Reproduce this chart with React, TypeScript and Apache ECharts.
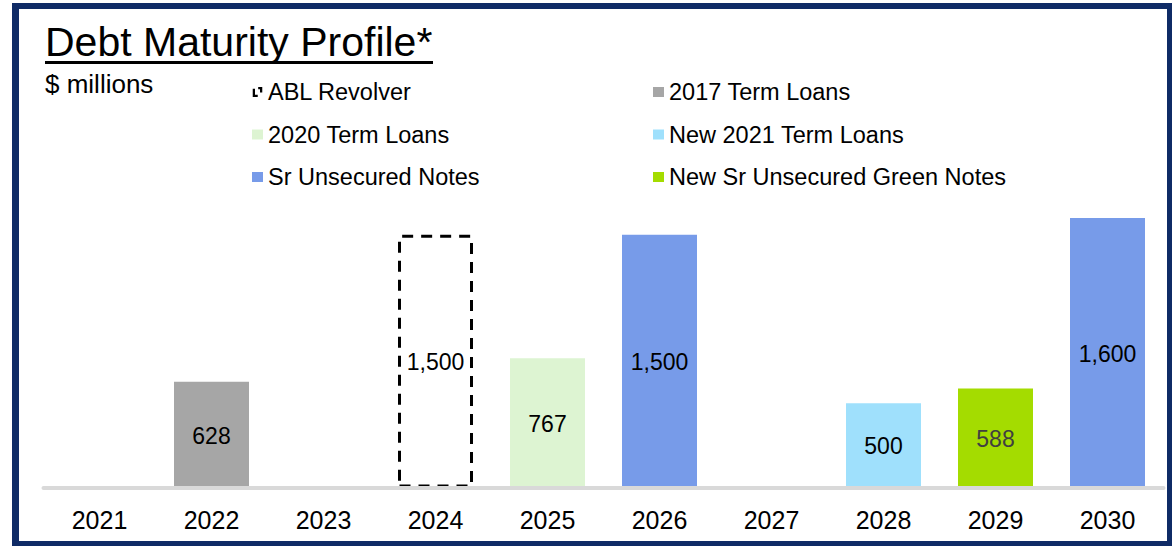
import React, { useEffect, useRef } from "react";
import * as echarts from "echarts";

const categories = ["2021", "2022", "2023", "2024", "2025", "2026", "2027", "2028", "2029", "2030"];
const ablRevolver = [null, null, null, 1500, null, null, null, null, null, null];
const termLoans2017 = [null, 628, null, null, null, null, null, null, null, null];
const termLoans2020 = [null, null, null, null, 767, null, null, null, null, null];
const newTermLoans2021 = [null, null, null, null, null, null, null, 500, null, null];
const srUnsecuredNotes = [null, null, null, null, null, 1500, null, null, null, 1600];
const greenNotes = [null, null, null, null, null, null, null, null, 588, null];

const FONT = "'Liberation Sans', Arial, sans-serif";
const NAVY = "#0f2b66";

export default function App() {
  const ref = useRef<HTMLDivElement>(null);
  useEffect(() => {
    if (!ref.current) return;
    const chart = echarts.init(ref.current, undefined, { renderer: "svg" });
    const fmt = (p: any) => Number(p.value).toLocaleString("en-US");
    const labelBase = {
      show: true,
      position: "inside",
      offset: [0, 1],
      fontFamily: FONT,
      fontSize: 23,
      color: "#000",
      formatter: fmt,
    };
    const mk = (name: string, data: any[], color: string, extra: any = {}) => ({
      name,
      type: "bar",
      stack: "total",
      barWidth: 75,
      data,
      itemStyle: { color },
      label: { ...labelBase },
      ...extra,
    });
    const legendText = { fontFamily: FONT, fontSize: 23.5, color: "#000", lineHeight: 24 };
    chart.setOption({
      animation: false,
      backgroundColor: "#fff",
      grid: { left: 43.5, right: 8.5, top: 218, bottom: 58.5, containLabel: false, outerBoundsMode: "none" },
      xAxis: {
        type: "category",
        data: categories,
        z: 5,
        axisLine: { lineStyle: { color: "#d9d9d9", width: 4 } },
        axisTick: { show: false },
        axisLabel: { fontFamily: FONT, fontSize: 25, color: "#000", margin: 17, lineHeight: 30 },
      },
      yAxis: { type: "value", min: 0, max: 1600, show: false, splitLine: { show: false } },
      legend: [
        {
          left: 252,
          top: 80,
          orient: "vertical",
          padding: 0,
          itemWidth: 11,
          itemHeight: 10,
          itemGap: 18.5,
          selectedMode: false,
          textStyle: legendText,
          data: [
            {
              name: "ABL Revolver",
              icon: "path://M0,2h2.5v6.5h3v2.5h-5.5z M6,0h4.5v6h-2.5v-3.5h-2z",
              itemStyle: { color: "#000", borderWidth: 0 },
            },
            { name: "2020 Term Loans", icon: "rect" },
            { name: "Sr Unsecured Notes", icon: "rect" },
          ],
        },
        {
          left: 653,
          top: 80,
          orient: "vertical",
          padding: 0,
          itemWidth: 11,
          itemHeight: 10,
          itemGap: 18.5,
          selectedMode: false,
          textStyle: legendText,
          data: [
            { name: "2017 Term Loans", icon: "rect" },
            { name: "New 2021 Term Loans", icon: "rect" },
            { name: "New Sr Unsecured Green Notes", icon: "rect" },
          ],
        },
      ],
      series: [
        mk("ABL Revolver", ablRevolver, "transparent", {
          itemStyle: { color: "rgba(0,0,0,0)", borderColor: "#000", borderWidth: 3, borderType: [11, 8] },
        }),
        mk("2017 Term Loans", termLoans2017, "#a6a6a6"),
        mk("2020 Term Loans", termLoans2020, "#ddf4d2"),
        mk("New 2021 Term Loans", newTermLoans2021, "#9fe0fc"),
        mk("Sr Unsecured Notes", srUnsecuredNotes, "#779be9"),
        mk("New Sr Unsecured Green Notes", greenNotes, "#a4dc00", {
          label: { ...labelBase, color: "#404040" },
        }),
      ],
      graphic: [
        { type: "rect", shape: { x: 12, y: 3, width: 1160, height: 6 }, style: { fill: NAVY }, z: 10 },
        { type: "rect", shape: { x: 12, y: 3, width: 7, height: 543 }, style: { fill: NAVY }, z: 10 },
        { type: "rect", shape: { x: 1167, y: 3, width: 5, height: 543 }, style: { fill: NAVY }, z: 10 },
        { type: "rect", shape: { x: 12, y: 541, width: 1160, height: 5 }, style: { fill: NAVY }, z: 10 },
        {
          type: "text",
          x: 45,
          y: 42,
          style: {
            text: "Debt Maturity Profile*",
            fontFamily: FONT,
            fontSize: 41,
            fill: "#000",
            verticalAlign: "middle",
          },
        },
        { type: "rect", shape: { x: 45, y: 61, width: 388, height: 3 }, style: { fill: "#000" } },
        {
          type: "text",
          x: 45,
          y: 84,
          style: {
            text: "$ millions",
            fontFamily: FONT,
            fontSize: 26,
            fill: "#000",
            verticalAlign: "middle",
          },
        },
      ],
    });
    return () => chart.dispose();
  }, []);
  return (
    <div
      ref={ref}
      style={{ position: "fixed", left: 0, top: 0, width: 1172, height: 546 }}
    />
  );
}
